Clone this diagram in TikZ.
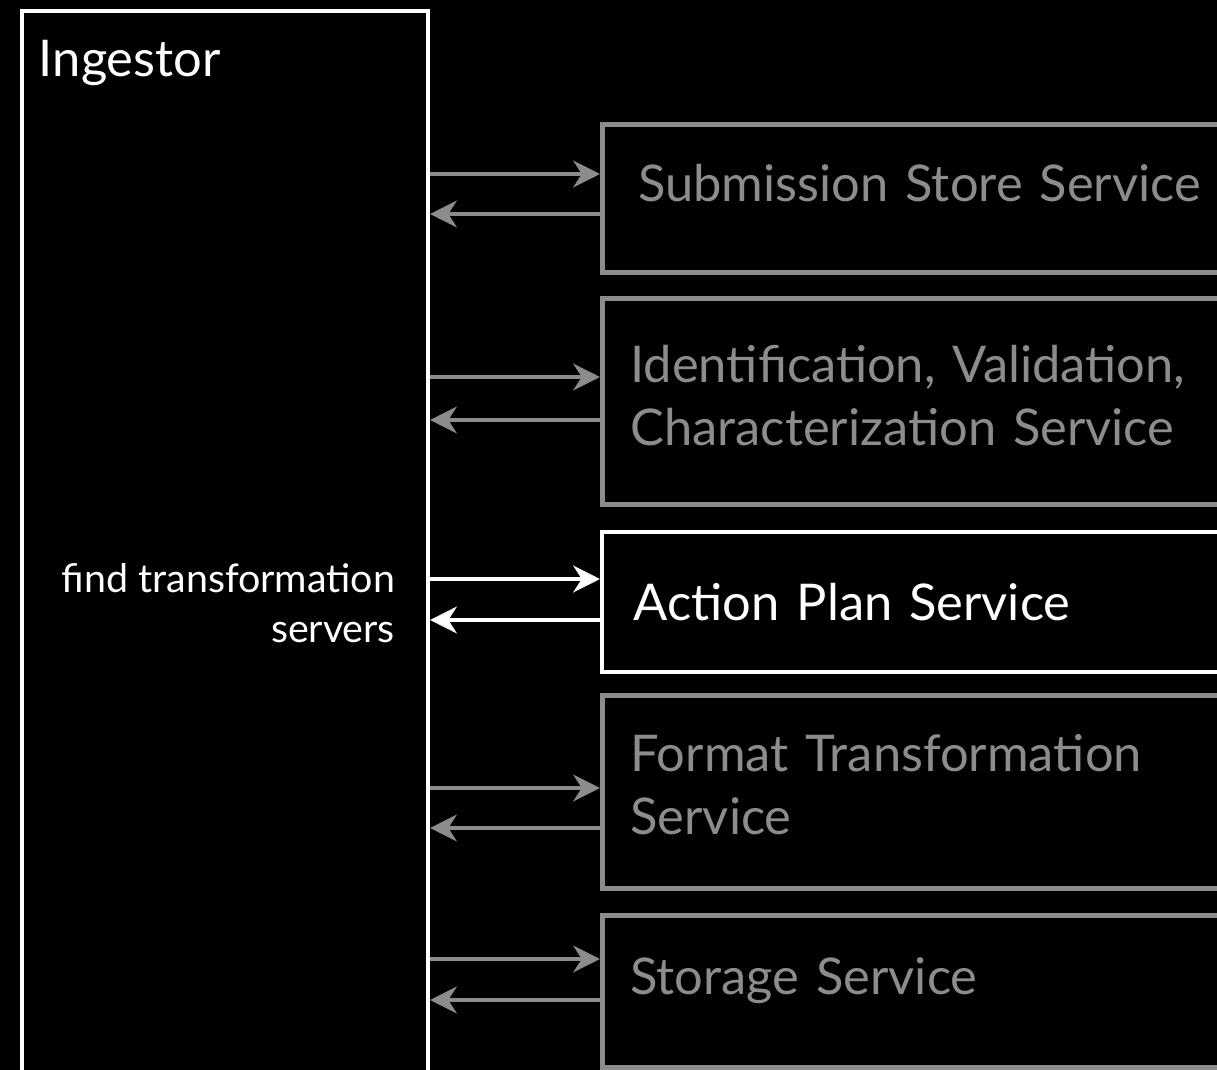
\documentclass[tikz,border=0pt]{standalone}
\usepackage{fontspec}
\setmainfont{Lato}
\usetikzlibrary{arrows.meta,positioning}
\definecolor{svcgray}{RGB}{140,140,140}

\begin{document}
\begin{tikzpicture}[x=0.025cm,y=-0.025cm,
  svcbox/.style={draw=svcgray, text=svcgray, line width=3.4pt, anchor=north west,
    minimum width=16cm, text width=14.6cm, align=left, inner xsep=0.6cm,
    font=\fontsize{36}{45}\selectfont},
  activebox/.style={svcbox, draw=white, text=white, line width=2.8pt},
  ingbox/.style={draw=white, line width=2.8pt, anchor=north west,
    minimum width=10.15cm, minimum height=27.3cm},
  flow/.style={-{Stealth[length=19pt,width=19pt,inset=6pt]}, line width=3.1pt}
]
\fill[black] (0,0) rectangle (1217,1070);
\useasboundingbox (0,0) rectangle (1217,1070);
\clip (0,0) rectangle (1217,1070);

% the ingestor
\node[ingbox] (ingest) at (20,9) {};
\node[anchor=north west, text=white, font=\fontsize{36}{40}\selectfont]
  (ing-t) at ([shift={(14,26)}]ingest.north west) {Ingestor};
\node[anchor=east, text=white, align=right, font=\fontsize{28}{36}\selectfont]
  (find-t) at (400,603) {find transformation\\servers};

% the services
\node[svcbox, minimum height=3.7cm, inner xsep=0.9cm] (sub) at (600,122) {Submission Store Service\vspace{22pt}};
\node[svcbox, minimum height=5.15cm] (ivc) at (600,296) {Identification, Validation,\\Characterization Service\vspace{8pt}};
\node[activebox, minimum height=3.5cm, inner xsep=0.8cm] (aps) at (600,530) {Action Plan Service};
\node[svcbox, minimum height=4.83cm] (fts) at (600,693) {Format Transformation\\Service\vspace{10pt}};
\node[svcbox, minimum height=3.8cm] (sto) at (600,913) {Storage Service\vspace{16pt}};

% requests and replies
\foreach \b/\yo/\yi/\c in {sub/174/214/svcgray, ivc/377/420/svcgray, aps/579/620/white,
  fts/788/828/svcgray, sto/959/1000/svcgray}
{
  \coordinate (\b-out) at (600,\yo);
  \coordinate (\b-in) at (600,\yi);
  \draw[flow, \c] (ingest.east |- \b-out) -- (\b.west |- \b-out);
  \draw[flow, \c] (\b.west |- \b-in) -- (ingest.east |- \b-in);
}
\end{tikzpicture}
\end{document}
